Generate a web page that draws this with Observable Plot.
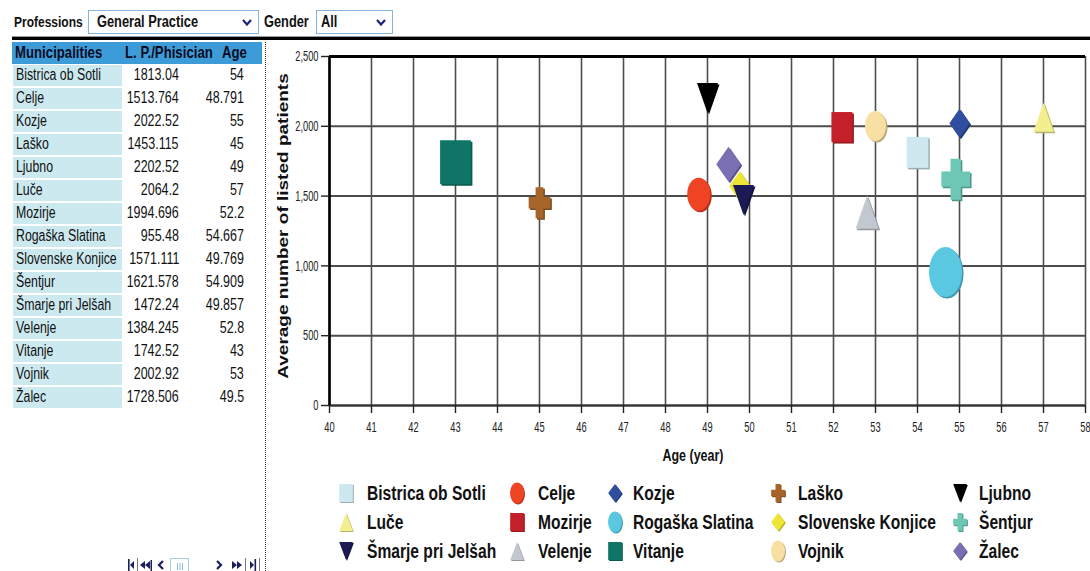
<!DOCTYPE html>
<html>
<head>
<meta charset="utf-8">
<script src="https://cdn.jsdelivr.net/npm/d3@7"></script>
<script src="https://cdn.jsdelivr.net/npm/@observablehq/plot@0.6"></script>
<style>
  html, body { margin: 0; padding: 0; background: #fff; }
  body { width: 1090px; height: 571px; overflow: hidden; position: relative;
         font-family: "Liberation Sans", Arial, sans-serif; color: #111; }
  .abs { position: absolute; white-space: nowrap; }
  .sq { display: inline-block; transform: scaleX(0.8); transform-origin: 0 50%; }
  .sqr { display: inline-block; transform: scaleX(0.78); transform-origin: 100% 50%; }
  .lbl { font-weight: bold; font-size: 16px; }
  .select { border: 1px solid #86b4e0; height: 24px; background: #fff; box-sizing: border-box; }
  .select .txt { position: absolute; left: 8px; top: 2px; font-weight: bold; font-size: 16px; }
  .select svg { position: absolute; right: 6px; top: 8px; }
  #table { left: 12px; top: 42px; width: 250px; }
  .th { background: #3d9bd8; height: 22px; position: relative; }
  .th div { position: absolute; top: 1px; font-weight: bold; font-size: 16.5px; color: #0b0b22; }
  .tr { position: relative; height: 23px; font-size: 16px; }
  .tr .name { position: absolute; left: 1px; top: 1px; width: 109px; height: 21px; background: #cde9f0; }
  .tr .name div { position: absolute; left: 3px; top: 1px; }
  .tr .name .sq { transform: scaleX(0.77); }
  .tr .num { position: absolute; top: 2px; text-align: right; }
  #ylabel { left: 283px; top: 226px; font-weight: bold; font-size: 19px;
            transform: translate(-50%, -50%) scaleX(0.75) rotate(-90deg); }
  #xlabel { left: 693px; top: 447px; font-weight: bold; font-size: 16px; transform: translateX(-50%) scaleX(0.78); }
</style>
</head>
<body>
<script>
// Average number of listed patients per physician and average physician age,
// General Practice, by municipality.
const municipalities = [
  "Bistrica ob Sotli", "Celje", "Kozje", "Laško", "Ljubno", "Luče", "Mozirje",
  "Rogaška Slatina", "Slovenske Konjice", "Šentjur", "Šmarje pri Jelšah",
  "Velenje", "Vitanje", "Vojnik", "Žalec"
];
const patientsPerPhysician = [
  1813.04, 1513.764, 2022.52, 1453.115, 2202.52, 2064.2, 1994.696,
  955.48, 1571.111, 1621.578, 1472.24, 1384.245, 1742.52, 2002.92, 1728.506
];
const physicianAge = [
  54, 48.791, 55, 45, 49, 57, 52.2, 54.667, 49.769, 54.909, 49.857, 52.8, 43, 53, 49.5
];
const xTicks = d3.range(40, 59);
const yTicks = [0, 500, 1000, 1500, 2000, 2500];
const professions = "General Practice";
const gender = "All";

// Marker appearance per municipality.
const markerStyle = {
  "Bistrica ob Sotli": {shape: "square",   color: "#cde9ef", half: 15.5},
  "Celje":             {shape: "circle",   color: "#ee4423", half: 16.5},
  "Kozje":             {shape: "diamond",  color: "#2f4ea0", half: 14.5},
  "Laško":             {shape: "cross",    color: "#a8652a", half: 15.5},
  "Ljubno":            {shape: "triDown",  color: "#000000", half: 15},
  "Luče":              {shape: "triUp",    color: "#f3ef8f", half: 14.5},
  "Mozirje":           {shape: "square",   color: "#c4202a", half: 15},
  "Rogaška Slatina":   {shape: "circle",   color: "#5bc8e2", half: 25},
  "Slovenske Konjice": {shape: "diamond",  color: "#eee537", half: 15},
  "Šentjur":           {shape: "cross",    color: "#6cc8b4", half: 20.5},
  "Šmarje pri Jelšah": {shape: "triDown",  color: "#1b1a55", half: 15},
  "Velenje":           {shape: "triUp",    color: "#c3c8d0", half: 16.5},
  "Vitanje":           {shape: "square",   color: "#0e7567", half: 22},
  "Vojnik":            {shape: "circle",   color: "#f8dfa3", half: 15},
  "Žalec":             {shape: "diamond",  color: "#7b6fb3", half: 17.5}
};

// Glyphs are drawn taller than wide; size arrives as an area (πr²).
function markerShape(kind, ratio = 0.7) {
  return {
    draw(ctx, size) {
      const b = Math.sqrt(size / Math.PI), a = b * ratio;
      if (kind === "square") {
        ctx.rect(-a, -b, 2 * a, 2 * b);
      } else if (kind === "circle") {
        const k = 0.5523;
        ctx.moveTo(a, 0);
        ctx.bezierCurveTo(a, k * b, k * a, b, 0, b);
        ctx.bezierCurveTo(-k * a, b, -a, k * b, -a, 0);
        ctx.bezierCurveTo(-a, -k * b, -k * a, -b, 0, -b);
        ctx.bezierCurveTo(k * a, -b, a, -k * b, a, 0);
        ctx.closePath();
      } else if (kind === "diamond") {
        ctx.moveTo(0, -b); ctx.lineTo(a, 0); ctx.lineTo(0, b); ctx.lineTo(-a, 0); ctx.closePath();
      } else if (kind === "triUp") {
        ctx.moveTo(0, -b); ctx.lineTo(a, b); ctx.lineTo(-a, b); ctx.closePath();
      } else if (kind === "triDown") {
        ctx.moveTo(0, b); ctx.lineTo(a, -b); ctx.lineTo(-a, -b); ctx.closePath();
      } else if (kind === "cross") {
        const tx = 0.36 * a, ty = 0.37 * b;
        ctx.moveTo(-tx, -b); ctx.lineTo(tx, -b); ctx.lineTo(tx, -ty); ctx.lineTo(a, -ty);
        ctx.lineTo(a, ty); ctx.lineTo(tx, ty); ctx.lineTo(tx, b); ctx.lineTo(-tx, b);
        ctx.lineTo(-tx, ty); ctx.lineTo(-a, ty); ctx.lineTo(-a, -ty); ctx.lineTo(-tx, -ty);
        ctx.closePath();
      }
    }
  };
}

// Condense SVG text horizontally (the page uses a condensed face).
function squeeze(selection, f) {
  selection.each(function () {
    const w = this.getComputedTextLength();
    if (w > 0) {
      this.setAttribute("textLength", w * f);
      this.setAttribute("lengthAdjust", "spacingAndGlyphs");
    }
  });
}

const body = d3.select("body");

// ---- filter bar ----
const chevron = '<svg width="10" height="7" viewBox="0 0 10 7"><polyline points="1,1 5,5.5 9,1" fill="none" stroke="#1b237e" stroke-width="2.2"/></svg>';
body.append("div").attr("class", "abs lbl").style("left", "14px").style("top", "13px").style("font-size", "15px")
  .html('<span class="sq">Professions</span>');
body.append("div").attr("class", "abs select").style("left", "88px").style("top", "10px").style("width", "171px")
  .html(`<div class="txt"><span class="sq">${professions}</span></div>${chevron}`);
body.append("div").attr("class", "abs lbl").style("left", "264px").style("top", "13px")
  .html('<span class="sq">Gender</span>');
body.append("div").attr("class", "abs select").style("left", "316px").style("top", "10px").style("width", "77px")
  .html(`<div class="txt" style="left:4px"><span class="sq">${gender}</span></div>${chevron}`);
body.append("div").attr("class", "abs").style("left", "12px").style("top", "36px").style("width", "1078px")
  .style("height", "1px").style("background", "#9a9a9a");
body.append("div").attr("class", "abs").style("left", "12px").style("top", "37px").style("width", "1078px")
  .style("height", "3px").style("background", "#000");

// ---- data table ----
const table = body.append("div").attr("class", "abs").attr("id", "table");
const th = table.append("div").attr("class", "th");
th.append("div").style("left", "3px").html('<span class="sq">Municipalities</span>');
th.append("div").style("left", "113px").html('<span class="sq">L. P./Phisician</span>');
th.append("div").style("left", "210px").html('<span class="sq">Age</span>');
municipalities.forEach((name, i) => {
  const tr = table.append("div").attr("class", "tr");
  tr.append("div").attr("class", "name").append("div").append("span").attr("class", "sq").text(name);
  tr.append("div").attr("class", "num").style("right", `${250 - 167}px`)
    .append("span").attr("class", "sqr").text(String(patientsPerPhysician[i]));
  tr.append("div").attr("class", "num").style("right", `${250 - 232}px`)
    .append("span").attr("class", "sqr").text(String(physicianAge[i]));
});
body.append("div").attr("class", "abs").style("left", "265px").style("top", "42px").style("height", "529px")
  .style("border-left", "1px dotted #333");

// pager controls under the table
const nav = body.append("svg").attr("class", "abs").style("left", "124px").style("top", "554px")
  .attr("width", 140).attr("height", 17);
const navInk = "#1b1f5e";
nav.append("rect").attr("x", 4).attr("y", 5).attr("width", 1.6).attr("height", 12).attr("fill", navInk);
nav.append("path").attr("d", "M6,11 L10,7 L10,15 Z").attr("fill", navInk);
nav.append("rect").attr("x", 13).attr("y", 4).attr("width", 1).attr("height", 13).attr("fill", "#777");
nav.append("path").attr("d", "M16,11 L21,7 L21,15 Z M21,11 L26,7 L26,15 Z").attr("fill", navInk);
nav.append("rect").attr("x", 26.5).attr("y", 6).attr("width", 1.5).attr("height", 11).attr("fill", navInk);
nav.append("polyline").attr("points", "39,7 35,11 39,15").attr("fill", "none").attr("stroke", navInk).attr("stroke-width", 2.2);
nav.append("rect").attr("x", 46.5).attr("y", 4.5).attr("width", 18).attr("height", 14).attr("fill", "#fff").attr("stroke", "#a8cbe8");
[53, 55.5, 58].forEach((x) => nav.append("rect").attr("x", x).attr("y", 9).attr("width", 1).attr("height", 7).attr("fill", "#8fb8df"));
nav.append("polyline").attr("points", "93,7 97,11 93,15").attr("fill", "none").attr("stroke", navInk).attr("stroke-width", 2.2);
nav.append("path").attr("d", "M108,7 L113,11 L108,15 Z M113,7 L118,11 L113,15 Z").attr("fill", navInk);
nav.append("rect").attr("x", 121).attr("y", 4).attr("width", 1).attr("height", 13).attr("fill", "#777");
nav.append("path").attr("d", "M126,7 L130,11 L126,15 Z").attr("fill", navInk);
nav.append("rect").attr("x", 130.5).attr("y", 5).attr("width", 1.6).attr("height", 12).attr("fill", navInk);
nav.append("rect").attr("x", 135).attr("y", 4).attr("width", 1).attr("height", 13).attr("fill", "#777");

// ---- scatter chart ----
const rows = municipalities.map((name, i) => ({name, patients: patientsPerPhysician[i], age: physicianAge[i]}));
const dotMarks = rows.flatMap((row) => {
  const s = markerStyle[row.name];
  const symbol = markerShape(s.shape, s.shape === "circle" && s.half > 20 ? 0.66 : 0.7);
  return [
    Plot.dot([row], {x: "age", y: "patients", r: s.half, symbol, fill: d3.color(s.color).darker(0.8).formatHex(), dx: 1.5, dy: 1.5}),
    Plot.dot([row], {x: "age", y: "patients", r: s.half, symbol, fill: s.color})
  ];
});

const chart = Plot.plot({
  width: 824,
  height: 430,
  marginLeft: 63,
  marginRight: 5,
  marginTop: 16,
  marginBottom: 65,
  x: {domain: [40, 58]},
  y: {domain: [0, 2500]},
  style: {fontFamily: '"Liberation Sans", Arial, sans-serif', fontSize: "14.5px", color: "#222", background: "transparent", overflow: "visible"},
  marks: [
    Plot.gridX(xTicks, {stroke: "#4d4d4d", strokeOpacity: 1, strokeWidth: 1.6}),
    Plot.gridY(yTicks, {stroke: "#4d4d4d", strokeOpacity: 1, strokeWidth: 2}),
    Plot.ruleY([0], {stroke: "#333", strokeWidth: 2.2}),
    Plot.ruleY([2500], {stroke: "#000", strokeWidth: 3}),
    Plot.ruleX([40], {stroke: "#000", strokeWidth: 2.6}),
    Plot.axisX(xTicks, {tickSize: 8, tickPadding: 8, color: "#222", strokeWidth: 1.4, label: null}),
    Plot.axisY(yTicks, {tickSize: 8, tickPadding: 3, tickFormat: d3.format(","), color: "#222", strokeWidth: 1.4, label: null}),
    ...dotMarks
  ]
});
body.append("div").attr("class", "abs").style("left", "266px").style("top", "40px").node().appendChild(chart);
squeeze(d3.select(chart).selectAll("text"), 0.64);

body.append("div").attr("class", "abs").attr("id", "ylabel").text("Average number of listed patients");
body.append("div").attr("class", "abs").attr("id", "xlabel").text("Age (year)");

// ---- legend (5 columns x 3 rows) ----
const legendCols = [{sx: 346, tx: 367}, {sx: 517, tx: 538}, {sx: 615, tx: 633}, {sx: 778, tx: 798}, {sx: 960, tx: 979}];
const legendRows = [493, 522, 551];
const legend = body.append("svg").attr("class", "abs").style("left", 0).style("top", 0)
  .attr("width", 1090).attr("height", 571).style("pointer-events", "none");
municipalities.forEach((name, i) => {
  const c = legendCols[i % 5], y = legendRows[Math.floor(i / 5)];
  const s = markerStyle[name];
  const half = s.shape === "circle" ? 10.5 : 9;
  const shape = markerShape(s.shape, s.shape === "circle" ? 0.66 : 0.76);
  const p = d3.path(); shape.draw(p, half * half * Math.PI);
  const g = legend.append("g").attr("transform", `translate(${c.sx},${y})`);
  g.append("path").attr("d", p.toString()).attr("fill", d3.color(s.color).darker(0.8).formatHex()).attr("transform", "translate(1,1)");
  g.append("path").attr("d", p.toString()).attr("fill", s.color);
  legend.append("text").attr("x", c.tx).attr("y", y).attr("dy", "0.36em")
    .style("font-weight", "bold").style("font-size", "19.5px").attr("fill", "#111").text(name);
});
squeeze(legend.selectAll("text"), 0.8);
</script>
</body>
</html>
